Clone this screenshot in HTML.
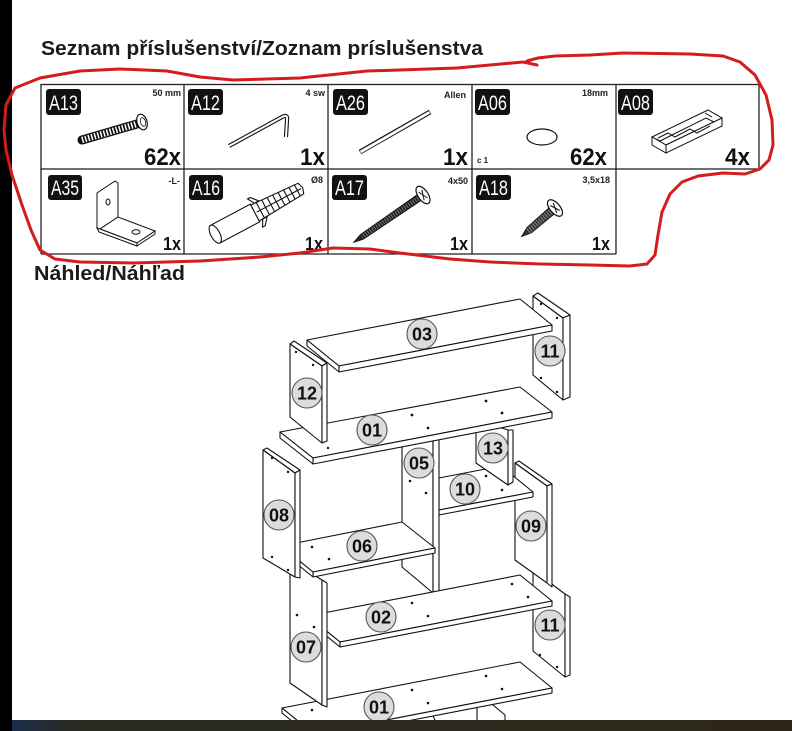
<!DOCTYPE html>
<html><head><meta charset="utf-8"><style>
html,body{margin:0;padding:0;background:#fff;}
body{width:792px;height:731px;overflow:hidden;}
svg{display:block;}
.t{font-family:"Liberation Sans",sans-serif;font-weight:bold;}
</style></head><body>
<svg width="792" height="731" viewBox="0 0 792 731" xmlns="http://www.w3.org/2000/svg">
<rect width="792" height="731" fill="#fff"/>

<!-- Titles -->
<text class="t" x="41" y="55" font-size="20" fill="#1b1b1b" textLength="442" lengthAdjust="spacingAndGlyphs">Seznam příslušenství/Zoznam príslušenstva</text>
<text class="t" x="34" y="280" font-size="20" fill="#1b1b1b" textLength="151" lengthAdjust="spacingAndGlyphs">Náhled/Náhľad</text>

<!-- Table -->
<g fill="none" stroke="#222" stroke-width="1.3">
<rect x="41" y="84.5" width="718" height="84.5"/>
<line x1="184" y1="84.5" x2="184" y2="254"/>
<line x1="328" y1="84.5" x2="328" y2="254"/>
<line x1="472" y1="84.5" x2="472" y2="254"/>
<line x1="616" y1="84.5" x2="616" y2="254"/>
<line x1="41" y1="169" x2="41" y2="254"/>
<line x1="41" y1="254" x2="616" y2="254"/>
</g>

<!-- Badges row 1 -->
<g fill="#111">
<rect x="46" y="89" width="35" height="26" rx="3"/>
<rect x="188" y="89" width="35" height="26" rx="3"/>
<rect x="333" y="89" width="35" height="26" rx="3"/>
<rect x="475" y="89" width="35" height="26" rx="3"/>
<rect x="618" y="89" width="35" height="26" rx="3"/>
<rect x="48" y="175" width="34" height="25" rx="3"/>
<rect x="189" y="175" width="34" height="25" rx="3"/>
<rect x="332" y="175" width="35" height="25" rx="3"/>
<rect x="476" y="175" width="35" height="25" rx="3"/>
</g>
<g font-family="Liberation Sans, sans-serif" font-size="21" fill="#fff" text-anchor="middle">
<text x="63.5" y="110" textLength="29" lengthAdjust="spacingAndGlyphs">A13</text>
<text x="205.5" y="110" textLength="29" lengthAdjust="spacingAndGlyphs">A12</text>
<text x="350.5" y="110" textLength="29" lengthAdjust="spacingAndGlyphs">A26</text>
<text x="492.5" y="110" textLength="29" lengthAdjust="spacingAndGlyphs">A06</text>
<text x="635.5" y="110" textLength="29" lengthAdjust="spacingAndGlyphs">A08</text>
<text x="65" y="195" textLength="28" lengthAdjust="spacingAndGlyphs">A35</text>
<text x="206" y="195" textLength="28" lengthAdjust="spacingAndGlyphs">A16</text>
<text x="349.5" y="195" textLength="29" lengthAdjust="spacingAndGlyphs">A17</text>
<text x="493.5" y="195" textLength="29" lengthAdjust="spacingAndGlyphs">A18</text>
</g>

<!-- Small spec labels -->
<g class="t" font-size="9" fill="#222" text-anchor="end">
<text x="181" y="96">50 mm</text>
<text x="325" y="96">4 sw</text>
<text x="466" y="98">Allen</text>
<text x="608" y="96">18mm</text>
<text x="180" y="184">-L-</text>
<text x="323" y="183">Ø8</text>
<text x="468" y="184">4x50</text>
<text x="610" y="183">3,5x18</text>
</g>
<text class="t" x="477" y="163" font-size="8" fill="#222">c 1</text>

<!-- Quantities -->
<g class="t" fill="#111" text-anchor="end">
<text x="181" y="165" font-size="24" textLength="37" lengthAdjust="spacingAndGlyphs">62x</text>
<text x="325" y="165" font-size="24" textLength="25" lengthAdjust="spacingAndGlyphs">1x</text>
<text x="468" y="165" font-size="24" textLength="25" lengthAdjust="spacingAndGlyphs">1x</text>
<text x="607" y="165" font-size="24" textLength="37" lengthAdjust="spacingAndGlyphs">62x</text>
<text x="750" y="165" font-size="24" textLength="25" lengthAdjust="spacingAndGlyphs">4x</text>
<text x="181" y="250" font-size="18" textLength="18" lengthAdjust="spacingAndGlyphs">1x</text>
<text x="323" y="250" font-size="18" textLength="18" lengthAdjust="spacingAndGlyphs">1x</text>
<text x="468" y="250" font-size="18" textLength="18" lengthAdjust="spacingAndGlyphs">1x</text>
<text x="610" y="250" font-size="18" textLength="18" lengthAdjust="spacingAndGlyphs">1x</text>
</g>

<!-- Hardware icons -->
<!-- A13 screw -->
<line x1="82" y1="140" x2="137" y2="124" stroke="#111" stroke-width="9" stroke-linecap="round"/>
<line x1="82" y1="140" x2="137" y2="124" stroke="#fff" stroke-width="6.5" stroke-dasharray="1.5 1.7"/>
<ellipse cx="142" cy="122" rx="5" ry="8" transform="rotate(-17 142 122)" fill="#fff" stroke="#111" stroke-width="1.2"/>
<ellipse cx="143" cy="122" rx="2.5" ry="4.5" transform="rotate(-17 143 122)" fill="none" stroke="#111" stroke-width="0.8"/>
<!-- A12 allen key -->
<path d="M229,146 L282,117 Q288,114 287,120 L286,137" fill="none" stroke="#111" stroke-width="4.2" stroke-linejoin="round"/>
<path d="M229,146 L282,117 Q288,114 287,120 L286,137" fill="none" stroke="#fff" stroke-width="2"/>
<!-- A26 rod -->
<line x1="360" y1="152" x2="430" y2="112" stroke="#111" stroke-width="5"/>
<line x1="360.5" y1="152" x2="429.5" y2="112.3" stroke="#fff" stroke-width="2.8"/>
<!-- A06 cap -->
<ellipse cx="542" cy="137" rx="15" ry="8" fill="#fff" stroke="#111" stroke-width="1.2"/>
<!-- A08 connector -->
<g fill="#fff" stroke="#111" stroke-width="1">
<polygon points="652,137 708,110 722,118 666,145"/>
<polygon points="666,145 722,118 722,126 666,153"/>
<polygon points="652,137 666,145 666,153 652,145"/>
<polyline points="658,138 668,133 675,137 690,129 697,133 710,126" fill="none"/>
<polyline points="660,141 668,137 706,118 714,122" fill="none"/>
<line x1="656" y1="139" x2="660" y2="141"/><line x1="705" y1="113" x2="712" y2="117"/>
</g>
<!-- A35 bracket -->
<g fill="#fff" stroke="#111" stroke-width="1">
<polygon points="97,193 115,181 118,183 118,217 100,229 97,228"/>
<polygon points="100,229 118,217 155,231 137,243"/>
<polygon points="137,243 155,231 155,234 137,246"/>
<polygon points="97,228 100,229 137,243 137,246 99,232"/>
<ellipse cx="108" cy="202" rx="2" ry="3"/>
<ellipse cx="136" cy="232" rx="4" ry="2.2"/>
</g>
<!-- A16 plug -->
<g transform="translate(255,213) rotate(-28)" fill="#fff" stroke="#111" stroke-width="1.1">
<rect x="-45" y="-10" width="45" height="20"/>
<ellipse cx="-45" cy="0" rx="4.5" ry="10"/>
<polygon points="0,-9 52,-6 54,0 52,6 0,9"/>
<line x1="6" y1="-9" x2="6" y2="9"/><line x1="12" y1="-8.5" x2="12" y2="8.5"/>
<line x1="18" y1="-8" x2="18" y2="8"/><line x1="24" y1="-8" x2="24" y2="8"/>
<line x1="30" y1="-7.5" x2="30" y2="7.5"/><line x1="36" y1="-7" x2="36" y2="7"/>
<line x1="42" y1="-6.5" x2="42" y2="6.5"/><line x1="48" y1="-6" x2="48" y2="6"/>
<line x1="2" y1="0" x2="52" y2="0"/>
<polygon points="4,-9 0,-16 3,-16 9,-9"/>
<polygon points="4,9 0,16 3,16 9,9"/>
</g>
<!-- A17 screw -->
<g transform="translate(423,195) rotate(145.6)">
<polygon points="5,-3.5 74,-2.8 84,0 74,2.8 5,3.5" fill="#222" stroke="#111" stroke-width="0.8"/>
<line x1="6" y1="0" x2="74" y2="0" stroke="#888" stroke-width="5" stroke-dasharray="0.8 1.8"/>
<ellipse cx="0" cy="0" rx="5" ry="10" fill="#fff" stroke="#111" stroke-width="1.2"/>
<line x1="-2" y1="-5" x2="2" y2="5" stroke="#111"/><line x1="-2" y1="5" x2="2" y2="-5" stroke="#111"/>
</g>
<!-- A18 screw -->
<g transform="translate(555,208) rotate(139.4)">
<polygon points="5,-4 34,-3.5 44,0 34,3.5 5,4" fill="#333" stroke="#111" stroke-width="0.8"/>
<line x1="6" y1="0" x2="36" y2="0" stroke="#999" stroke-width="6" stroke-dasharray="0.8 1.8"/>
<ellipse cx="0" cy="0" rx="5" ry="10" fill="#fff" stroke="#111" stroke-width="1.2"/>
<line x1="-2" y1="-5" x2="2" y2="5" stroke="#111"/><line x1="-2" y1="5" x2="2" y2="-5" stroke="#111"/>
</g>

<!-- Furniture -->
<g fill="#fff" stroke="#111" stroke-width="1.1" stroke-linejoin="round">
<!-- panel 11 top -->
<polygon points="533,296 563,318 563,400 533,375"/>
<polygon points="533,296 538,293 570,315 563,318"/>
<polygon points="563,318 570,315 570,397 563,400"/>
<!-- board 03 -->
<polygon points="307,340 520,299 552,325 339,366"/>
<polygon points="339,366 552,325 552,331 339,372"/>
<polygon points="307,340 339,366 339,372 307,346"/>
<!-- panel 11 lower -->
<polygon points="533,570 565,594 565,677 533,651"/>
<polygon points="565,594 570,597 570,675 565,677"/>
<!-- panel 09 -->
<polygon points="515,463 519,461 552,484 547,486"/>
<polygon points="515,463 547,486 547,583 515,560"/>
<polygon points="547,486 552,484 552,587 547,583"/>
<!-- board 10 -->
<polygon points="439,478 501,466 533,492 439,510"/>
<polygon points="439,510 533,492 533,497 439,515"/>
<!-- panel 13 -->
<polygon points="476,420 508,430 508,485 476,463"/>
<polygon points="508,430 513,430 513,482 508,485"/>
<!-- panel 05 -->
<polygon points="402,430 433,440 433,593 402,567"/>
<polygon points="433,440 439,440 439,597 433,593"/>
<!-- board 01 upper -->
<polygon points="280,432 520,387 552,412 313,458"/>
<polygon points="313,458 552,412 552,418 313,464"/>
<polygon points="280,432 313,458 313,464 280,438"/>
<!-- panel 12 -->
<polygon points="290,344 294,341 327,363 322,366"/>
<polygon points="290,344 322,366 322,443 290,417"/>
<polygon points="322,366 327,363 327,441 322,443"/>
<!-- board 02 -->
<polygon points="308,616 520,575 552,601 340,642"/>
<polygon points="340,642 552,601 552,606 340,647"/>
<polygon points="308,616 340,642 340,647 308,621"/>
<!-- structure below board 01 lower -->
<polygon points="477,703 487,700 505,715 505,722 477,722"/>
<polygon points="412,722 420,714 432,714 436,722"/>
<!-- board 01 lower -->
<polygon points="282,708 520,662 552,688 314,734"/>
<polygon points="314,734 552,688 552,693 314,739"/>
<polygon points="282,708 314,734 314,739 282,713"/>
<!-- panel 07 -->
<polygon points="290,560 322,580 322,705 290,683"/>
<polygon points="322,580 327,583 327,707 322,705"/>
<!-- board 06 -->
<polygon points="281,546 402,522 435,548 313,572"/>
<polygon points="313,572 435,548 435,553 313,577"/>
<polygon points="281,546 313,572 313,577 281,551"/>
<!-- panel 08 -->
<polygon points="263,450 267,448 300,470 295,473"/>
<polygon points="263,450 295,473 295,577 263,558"/>
<polygon points="295,473 300,470 300,578 295,577"/>
</g>

<!-- Holes -->
<g fill="#111">
<circle cx="412" cy="415" r="1.4"/><circle cx="428" cy="428" r="1.4"/><circle cx="486" cy="401" r="1.4"/><circle cx="502" cy="413" r="1.4"/><circle cx="328" cy="448" r="1.2"/>
<circle cx="296" cy="352" r="1.2"/><circle cx="313" cy="365" r="1.2"/>
<circle cx="541" cy="304" r="1.2"/><circle cx="557" cy="318" r="1.2"/><circle cx="541" cy="378" r="1.2"/><circle cx="557" cy="392" r="1.2"/>
<circle cx="410" cy="481" r="1.3"/><circle cx="426" cy="493" r="1.3"/>
<circle cx="486" cy="476" r="1.3"/><circle cx="502" cy="490" r="1.3"/>
<circle cx="272" cy="458" r="1.2"/><circle cx="288" cy="472" r="1.2"/><circle cx="272" cy="557" r="1.2"/><circle cx="288" cy="570" r="1.2"/>
<circle cx="312" cy="547" r="1.3"/><circle cx="329" cy="559" r="1.3"/>
<circle cx="412" cy="603" r="1.3"/><circle cx="428" cy="616" r="1.3"/><circle cx="512" cy="584" r="1.3"/><circle cx="528" cy="597" r="1.3"/>
<circle cx="297" cy="615" r="1.3"/><circle cx="314" cy="627" r="1.3"/>
<circle cx="540" cy="655" r="1.2"/><circle cx="557" cy="667" r="1.2"/>
<circle cx="312" cy="710" r="1.3"/><circle cx="412" cy="690" r="1.3"/><circle cx="428" cy="703" r="1.3"/><circle cx="486" cy="676" r="1.3"/><circle cx="502" cy="689" r="1.3"/>
</g>

<!-- Part labels -->
<g fill="#dcdcdc" stroke="#555" stroke-width="1.1">
<circle cx="422" cy="334" r="15"/>
<circle cx="550" cy="351" r="15"/>
<circle cx="307" cy="393" r="15"/>
<circle cx="372" cy="430" r="15"/>
<circle cx="419" cy="463" r="15"/>
<circle cx="493" cy="448" r="15"/>
<circle cx="465" cy="489" r="15"/>
<circle cx="279" cy="515" r="15"/>
<circle cx="531" cy="526" r="15"/>
<circle cx="362" cy="546" r="15"/>
<circle cx="381" cy="617" r="15"/>
<circle cx="306" cy="647" r="15"/>
<circle cx="550" cy="625" r="15"/>
<circle cx="379" cy="707" r="15"/>
</g>
<g class="t" font-size="18" fill="#111" text-anchor="middle">
<text x="422" y="340.5">03</text>
<text x="550" y="357.5">11</text>
<text x="307" y="399.5">12</text>
<text x="372" y="436.5">01</text>
<text x="419" y="469.5">05</text>
<text x="493" y="454.5">13</text>
<text x="465" y="495.5">10</text>
<text x="279" y="521.5">08</text>
<text x="531" y="532.5">09</text>
<text x="362" y="552.5">06</text>
<text x="381" y="623.5">02</text>
<text x="306" y="653.5">07</text>
<text x="550" y="631.5">11</text>
<text x="379" y="713.5">01</text>
</g>

<!-- Left black strip and bottom bar -->
<rect x="0" y="0" width="12" height="731" fill="#000"/>
<defs>
<linearGradient id="bb" x1="0" y1="0" x2="1" y2="0">
<stop offset="0" stop-color="#1a2d48"/>
<stop offset="0.08" stop-color="#2a2a22"/>
<stop offset="1" stop-color="#2c2719"/>
</linearGradient>
</defs>
<rect x="12" y="720" width="780" height="11" fill="url(#bb)"/>

<!-- Red freehand loop -->
<g fill="none" stroke="#d41c1c" stroke-width="3" stroke-linecap="round" stroke-linejoin="round">
<polyline points="537,65 523,62 490,65 457,68 400,70 367,71 300,78 233,80 200,77 167,71 120,69 80,71 40,78 15,88 6,105 4,130 6,150 12,175 22,205 31,230 40,250 55,259 80,262 133,263 200,261 260,257 300,253 333,248 370,249 400,253 450,259 490,262 540,264 590,265 630,266 647,264 655,255 658,235 662,212 670,194 682,182 698,176 723,173 745,174 760,169 769,160 773,145 772,120 766,95 755,75 740,62 723,56 690,54 623,53 590,55 555,56 538,58 527,61"/>
</g>
</svg>
</body></html>
